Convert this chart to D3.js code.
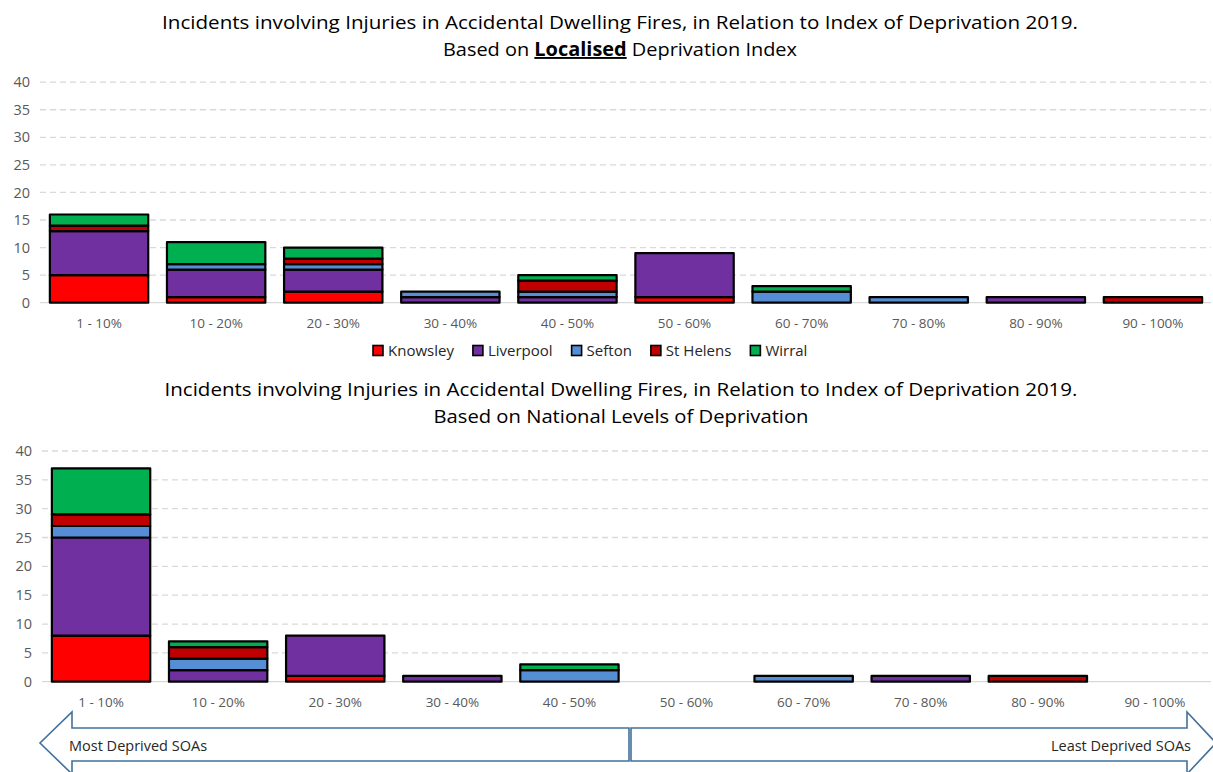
<!DOCTYPE html>
<html>
<head>
<meta charset="utf-8">
<script src="https://cdn.jsdelivr.net/npm/d3@7/dist/d3.min.js"></script>
<style>
  html, body { margin: 0; padding: 0; background: #fff; }
  svg { display: block; font-family: "Open Sans", "Noto Sans", sans-serif; }
</style>
</head>
<body>
<svg id="chart" width="1213" height="772"></svg>
<script>
// Deprivation deciles (x categories)
const deciles = ["1 - 10%", "10 - 20%", "20 - 30%", "30 - 40%", "40 - 50%",
                 "50 - 60%", "60 - 70%", "70 - 80%", "80 - 90%", "90 - 100%"];

// Districts (stack order, bottom to top)
const districts = ["Knowsley", "Liverpool", "Sefton", "St Helens", "Wirral"];
const districtColors = ["#FF0000", "#7030A0", "#558ED5", "#C00000", "#00B050"];

// Localised deprivation index: injuries per decile
const localKnowsley  = [5, 1, 2, 0, 0, 1, 0, 0, 0, 0];
const localLiverpool = [8, 5, 4, 1, 1, 8, 0, 0, 1, 0];
const localSefton    = [0, 1, 1, 1, 1, 0, 2, 1, 0, 0];
const localStHelens  = [1, 0, 1, 0, 2, 0, 0, 0, 0, 1];
const localWirral    = [2, 4, 2, 0, 1, 0, 1, 0, 0, 0];

// National levels of deprivation: injuries per decile
const natKnowsley  = [8, 0, 1, 0, 0, 0, 0, 0, 0, 0];
const natLiverpool = [17, 2, 7, 1, 0, 0, 0, 1, 0, 0];
const natSefton    = [2, 2, 0, 0, 2, 0, 1, 0, 0, 0];
const natStHelens  = [2, 2, 0, 0, 0, 0, 0, 0, 1, 0];
const natWirral    = [8, 1, 0, 0, 1, 0, 0, 0, 0, 0];

const yTicks = [0, 5, 10, 15, 20, 25, 30, 35, 40];

const svg = d3.select("#chart");

function rows(series) {
  return deciles.map((d, i) => {
    const r = { decile: d };
    districts.forEach((k, j) => { r[k] = series[j][i]; });
    return r;
  });
}

function drawChart(opts) {
  const g = svg.append("g");
  const x = d3.scaleBand().domain(deciles)
    .range([opts.x0, opts.x1]).paddingInner(0.16).paddingOuter(0.08);
  const y = d3.scaleLinear().domain([0, 40]).range([opts.y0, opts.y1]);

  // dashed gridlines
  g.append("g").selectAll("line").data(yTicks.filter(t => t > 0)).join("line")
    .attr("x1", opts.gx0).attr("x2", opts.gx1)
    .attr("y1", d => y(d)).attr("y2", d => y(d))
    .attr("stroke", "#d9d9d9").attr("stroke-width", 1.3)
    .attr("stroke-dasharray", "6,4");

  // base line
  g.append("line")
    .attr("x1", opts.gx0).attr("x2", opts.gx1)
    .attr("y1", y(0)).attr("y2", y(0))
    .attr("stroke", "#d9d9d9").attr("stroke-width", 1.3);

  // y axis labels
  const yAxis = d3.axisLeft(y).tickValues(yTicks).tickSize(0).tickPadding(0);
  const ya = g.append("g").attr("transform", `translate(${opts.gx0 - 10},0)`).call(yAxis);
  ya.select(".domain").remove();
  ya.selectAll("text").attr("fill", "#595959").style("font-size", "14.5px")
    .style("font-family", "Open Sans, sans-serif");

  // x axis labels
  const xAxis = d3.axisBottom(x).tickSize(0).tickPadding(0);
  const xa = g.append("g").attr("transform", `translate(0,${opts.xLabelY})`).call(xAxis);
  xa.select(".domain").remove();
  xa.selectAll("text").attr("fill", "#595959").style("font-size", "13.5px")
    .attr("dy", "0").style("font-family", "Open Sans, sans-serif");

  // stacked bars
  const stacked = d3.stack().keys(districts)(rows(opts.series));
  const layers = g.append("g").selectAll("g").data(stacked).join("g")
    .attr("fill", (d, i) => districtColors[i]);
  layers.selectAll("rect").data(d => d.filter(s => s[1] - s[0] > 0)).join("rect")
    .attr("x", d => x(d.data.decile))
    .attr("width", x.bandwidth())
    .attr("y", d => y(d[1]))
    .attr("height", d => y(d[0]) - y(d[1]))
    .attr("stroke", "#000").attr("stroke-width", 2.2)
    .attr("stroke-linejoin", "round");

  // title
  const t = g.append("text").attr("text-anchor", "middle").attr("fill", "#000")
    .style("font-size", "19px");
  t.append("tspan").attr("x", opts.titleX).attr("y", opts.titleY)
    .attr("textLength", opts.title1Len).attr("lengthAdjust", "spacingAndGlyphs")
    .text(opts.title1);
  const t2 = g.append("text").attr("text-anchor", "middle").attr("fill", "#000")
    .attr("x", opts.titleX).attr("y", opts.titleY + 27)
    .attr("textLength", opts.title2Len).attr("lengthAdjust", "spacingAndGlyphs")
    .style("font-size", "19px");
  opts.title2.forEach(part => {
    const s = t2.append("tspan").text(part.text);
    if (part.bold) s.attr("font-weight", "bold").attr("text-decoration", "underline");
  });
}

drawChart({
  series: [localKnowsley, localLiverpool, localSefton, localStHelens, localWirral],
  x0: 40.5, x1: 1211.5, y0: 302.7, y1: 82.2, gx0: 40, gx1: 1211, xLabelY: 328,
  titleX: 620, titleY: 29,
  title1: "Incidents involving Injuries in Accidental Dwelling Fires, in Relation to Index of  Deprivation 2019.",
  title1Len: 916,
  title2: [{ text: "Based on " }, { text: "Localised", bold: true }, { text: " Deprivation Index" }],
  title2Len: 354
});

drawChart({
  series: [natKnowsley, natLiverpool, natSefton, natStHelens, natWirral],
  x0: 42.5, x1: 1213.5, y0: 681.7, y1: 451, gx0: 42, gx1: 1211, xLabelY: 707,
  titleX: 621, titleY: 396,
  title1: "Incidents involving Injuries in Accidental Dwelling Fires, in Relation to Index of Deprivation 2019.",
  title1Len: 913,
  title2: [{ text: "Based on National Levels of Deprivation" }],
  title2Len: 375
});

// legend
const legend = svg.append("g").attr("transform", "translate(373,356)");
let lx = 0;
districts.forEach((name, i) => {
  const item = legend.append("g").attr("transform", `translate(${lx},0)`);
  item.append("rect").attr("x", 0).attr("y", -10.5).attr("width", 10).attr("height", 10)
    .attr("fill", districtColors[i]).attr("stroke", "#000").attr("stroke-width", 1.6);
  const txt = item.append("text").attr("x", 15).attr("y", 0)
    .attr("fill", "#262626").style("font-size", "15px").text(name);
  const w = txt.node().getComputedTextLength();
  lx += 15 + w + 19;
});

// deprivation direction arrows
const arrowStroke = "#41719C";
const arrows = svg.append("g").attr("fill", "#fff").attr("stroke", arrowStroke)
  .attr("stroke-width", 1.6);
const mid = 743, shaftTop = 728, shaftBot = 761, headHalf = 31;
arrows.append("path").attr("d", d3.line()([
  [629, shaftTop], [72, shaftTop], [72, mid - headHalf], [40, mid],
  [72, mid + headHalf], [72, shaftBot], [629, shaftBot]
]) + "Z");
arrows.append("path").attr("d", d3.line()([
  [631, shaftTop], [1187, shaftTop], [1187, mid - headHalf], [1216, mid],
  [1187, mid + headHalf], [1187, shaftBot], [631, shaftBot]
]) + "Z");
svg.append("text").attr("x", 69).attr("y", 751).attr("fill", "#262626")
  .style("font-size", "14.5px").text("Most Deprived SOAs");
svg.append("text").attr("x", 1191).attr("y", 751).attr("text-anchor", "end")
  .attr("fill", "#262626").style("font-size", "14.5px").text("Least Deprived SOAs");
</script>
</body>
</html>
